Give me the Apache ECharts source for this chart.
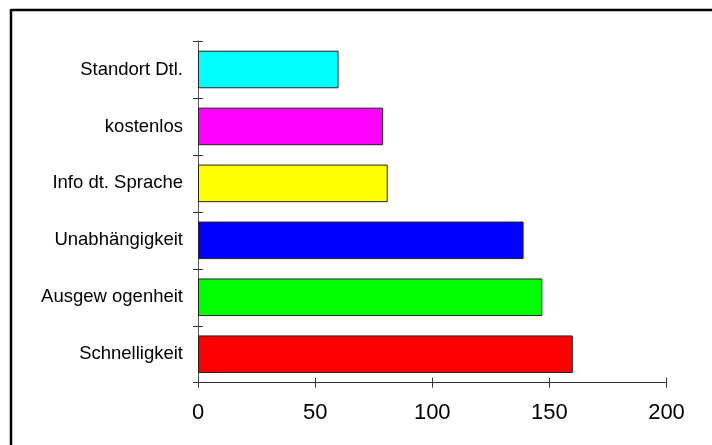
<!DOCTYPE html>
<html>
<head>
<meta charset="utf-8">
<script src="https://cdn.jsdelivr.net/npm/echarts@6/dist/echarts.min.js"></script>
<style>html,body{margin:0;padding:0;background:#fff}#c{width:712px;height:445px}</style>
</head>
<body>
<div id="c"></div>
<script>
var categories = ['Schnelligkeit', 'Ausgew ogenheit', 'Unabhängigkeit', 'Info dt. Sprache', 'kostenlos', 'Standort Dtl.'];
var values = [160, 147, 139, 81, 79, 60];
var barColors = ['#ff0000', '#00ff00', '#0000ff', '#ffff00', '#ff00ff', '#00ffff'];
var xTicks = [0, 50, 100, 150, 200];

var chart = echarts.init(document.getElementById('c'));
var font = 'Liberation Sans, Arial, sans-serif';
chart.setOption({
  animation: false,
  backgroundColor: '#fff',
  graphic: [
    { type: 'line', shape: { x1: 11, y1: 10, x2: 712, y2: 10 }, style: { stroke: '#000', lineWidth: 2.5 } },
    { type: 'line', shape: { x1: 11, y1: 9, x2: 11, y2: 445 }, style: { stroke: '#000', lineWidth: 2.5 } }
  ],
  grid: { left: 198, top: 41, right: 45.5, bottom: 62.3, containLabel: false },
  xAxis: [{
    type: 'value', min: xTicks[0], max: xTicks[xTicks.length - 1], interval: 50,
    axisLine: { show: true, lineStyle: { color: '#333', width: 1 } },
    axisTick: { show: true, inside: false, length: 5, lineStyle: { color: '#333' } },
    axisLabel: { fontFamily: font, fontSize: 22, color: '#000', margin: 19 },
    splitLine: { show: false }
  }, {
    type: 'value', position: 'bottom', min: xTicks[0], max: xTicks[xTicks.length - 1], interval: 50,
    axisLine: { show: false },
    axisTick: { show: true, inside: true, length: 5, lineStyle: { color: '#333' } },
    axisLabel: { show: false },
    splitLine: { show: false }
  }],
  yAxis: [{
    type: 'category', data: categories,
    axisLine: { show: true, lineStyle: { color: '#555', width: 1 } },
    axisTick: { show: true, inside: false, length: 5, lineStyle: { color: '#333' } },
    axisLabel: { fontFamily: font, fontSize: 18.5, color: '#000', margin: 15 }
  }, {
    type: 'category', data: categories, position: 'left',
    axisLine: { show: false },
    axisTick: { show: true, inside: true, length: 5, lineStyle: { color: '#333' } },
    axisLabel: { show: false }
  }],
  series: [{
    type: 'bar',
    xAxisIndex: 0, yAxisIndex: 0,
    barCategoryGap: '34%',
    data: values.map(function (v, i) {
      return { value: v, itemStyle: { color: barColors[i] } };
    }),
    itemStyle: { borderColor: '#222', borderWidth: 1 }
  }]
});
</script>
</body>
</html>
